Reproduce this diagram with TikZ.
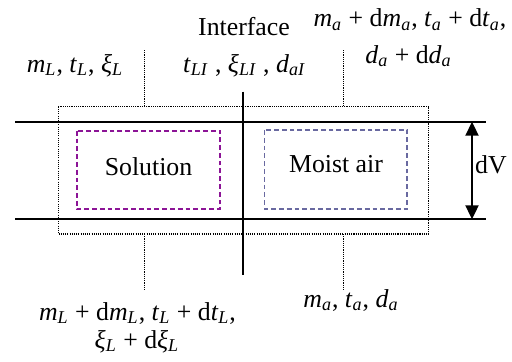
\documentclass[tikz,border=0pt]{standalone}
\usepackage{fontspec}
\setmainfont{Liberation Serif}
\usetikzlibrary{arrows.meta}
\definecolor{solpurple}{RGB}{140,20,150}
\definecolor{airslate}{RGB}{105,105,160}
\newcommand\vv[2]{\textit{#1}\textsubscript{\textit{#2}}}
\begin{document}
\begin{tikzpicture}[x=0.5pt,y=-0.5pt,
  lbl/.style={inner sep=0pt,anchor=base,font=\fontsize{12.9}{15}\selectfont},
  solidline/.style={line width=1pt},
  dotline/.style={line width=0.6pt,dash pattern=on 0.55pt off 0.55pt},
  solbox/.style={draw=solpurple,line width=1pt,dash pattern=on 2.4pt off 1.5pt},
  airbox/.style={draw=airslate,line width=0.75pt,dash pattern=on 2.4pt off 1.5pt}]
\useasboundingbox (0,0) rectangle (512,361);
% horizontal boundaries
\coordinate (tl) at (15,121.7); \coordinate (tr) at (486,121.7);
\coordinate (bl) at (15,219.3); \coordinate (br) at (486,219.3);
\draw[solidline] (tl) -- (tr);
\draw[solidline] (bl) -- (br);
% interface line
\coordinate (it) at (243.3,91.7); \coordinate (ib) at (243.3,275);
\draw[solidline] (it) -- (ib);
% dotted control volume
\coordinate (d1) at (58.3,106.7); \coordinate (d2) at (428.7,234);
\draw[dotline] (d1) rectangle (d2);
% dotted stubs
\coordinate (s1a) at (144.3,50); \coordinate (s1b) at (144.3,106.7);
\coordinate (s2a) at (343.3,50); \coordinate (s2b) at (343.3,106.7);
\coordinate (s3a) at (144.3,234); \coordinate (s3b) at (144.3,290);
\coordinate (s4a) at (343.3,234); \coordinate (s4b) at (343.3,290);
\draw[dotline] (s1a) -- (s1b);
\draw[dotline] (s2a) -- (s2b);
\draw[dotline] (s3a) -- (s3b);
\draw[dotline] (s4a) -- (s4b);
% dashed boxes
\coordinate (b1a) at (76.7,130.7); \coordinate (b1b) at (220,209);
\coordinate (b2a) at (264.3,130); \coordinate (b2b) at (407,209);
\draw[solbox] (b1a) rectangle (b1b);
\draw[airbox] (b2a) rectangle (b2b);
\node[lbl] (sol) at (148.5,175) {Solution};
\node[lbl] (air) at (336,172) {Moist air};
% dV arrow
\coordinate (va) at (472,121.7); \coordinate (vb) at (472,219.3);
\draw[line width=1pt,{Triangle[length=7pt,width=6.5pt]}-{Triangle[length=7pt,width=6.5pt]}] (va) -- (vb);
\node[lbl] (dv) at (491,173) {dV};
% labels
\node[lbl] (intf) at (244,35.5) {Interface};
\node[lbl] (lin) at (75,72) {\vv{m}{L}, \vv{t}{L}, \vv{ξ}{L}};
\node[lbl] (ifv) at (244.5,72) {\vv{t}{LI} , \vv{ξ}{LI} , \vv{d}{aI}};
\node[lbl] (ain1) at (410,26.5) {\vv{m}{a} + d\vv{m}{a}, \vv{t}{a} + d\vv{t}{a},};
\node[lbl] (ain2) at (408.5,63) {\vv{d}{a} + d\vv{d}{a}};
\node[lbl] (lout1) at (137.5,320) {\vv{m}{L} + d\vv{m}{L}, \vv{t}{L} + d\vv{t}{L},};
\node[lbl] (lout2) at (137,348) {\vv{ξ}{L} + d\vv{ξ}{L}};
\node[lbl] (aout) at (351,307) {\vv{m}{a}, \vv{t}{a}, \vv{d}{a}};
\end{tikzpicture}
\end{document}
